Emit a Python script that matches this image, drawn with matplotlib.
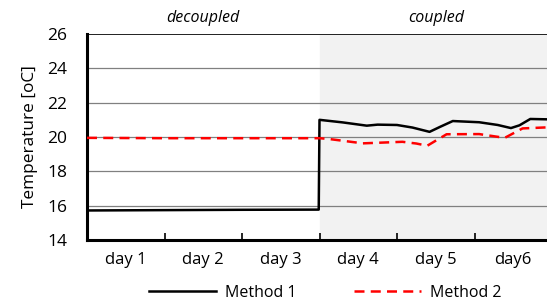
import numpy as np
import matplotlib.pyplot as plt

plt.rcParams['font.family'] = ['Open Sans', 'DejaVu Sans']

# method 1 (black), days on x axis
m1_day = [0.0, 1.0, 2.0, 2.99, 3.0, 3.3, 3.61, 3.75, 4.0, 4.2, 4.42, 4.56, 4.72, 5.06, 5.3, 5.47, 5.58, 5.72, 5.93, 6.0]
m1_temp = [15.72, 15.74, 15.76, 15.77, 21.0, 20.85, 20.66, 20.72, 20.7, 20.55, 20.3, 20.6, 20.93, 20.86, 20.7, 20.52, 20.68, 21.05, 21.03, 21.02]

# method 2 (red dashed)
m2_day = [0.0, 1.0, 2.0, 3.0, 3.13, 3.56, 4.07, 4.25, 4.39, 4.64, 5.06, 5.39, 5.62, 5.93, 6.0]
m2_temp = [19.95, 19.93, 19.93, 19.93, 19.88, 19.63, 19.72, 19.62, 19.49, 20.16, 20.17, 19.95, 20.5, 20.56, 20.56]

day_labels = ['day 1', 'day 2', 'day 3', 'day 4', 'day 5', 'day6']
yticks = [14, 16, 18, 20, 22, 24, 26]

fig = plt.figure(figsize=(5.47, 3.04), dpi=100)
ax = fig.add_axes([87/547, 1 - 240/304, 465/547, 206/304])

ax.axvspan(3, 6.2, color='#f2f2f2', zorder=0)
for y in yticks[1:-1]:
    ax.axhline(y, color='#808080', lw=0.9, zorder=1)
ax.axhline(26, color='#202020', lw=1.4, zorder=1)

ax.plot(m1_day, m1_temp, color='black', lw=1.8, label='Method 1', zorder=3)
ax.plot(m2_day, m2_temp, color='#ff0000', lw=1.8, ls=(0, (4, 2.5)), label='Method 2', zorder=4)

ax.set_xlim(0, 6)
ax.set_ylim(14, 26)
ax.set_yticks(yticks)
ax.tick_params(axis='y', length=0, pad=14, labelsize=12.5)
ax.set_xticks([1, 2, 3, 4, 5])
ax.set_xticklabels([])
ax.tick_params(axis='x', which='major', direction='in', length=5, width=1.2)
ax.set_xticks(np.arange(6) + 0.5, minor=True)
ax.set_xticklabels(day_labels, minor=True)
ax.tick_params(axis='x', which='minor', length=0, pad=9, labelsize=12)

for s in ['top', 'right']:
    ax.spines[s].set_visible(False)
ax.spines['left'].set_linewidth(2.2)
ax.spines['bottom'].set_linewidth(2.2)

ax.set_ylabel('Temperature [oC]', fontsize=12.4, labelpad=7)
ax.text(1.5, 26.45, 'decoupled', style='italic', ha='center', va='bottom', fontsize=11.5)
ax.text(4.5, 26.45, 'coupled', style='italic', ha='center', va='bottom', fontsize=11.5)

fig.legend(loc='center', bbox_to_anchor=(0.594, 0.036), ncol=2, frameon=False,
           fontsize=11.5, handlelength=4.2, handletextpad=0.55, columnspacing=3.6)

fig.savefig('out.png', dpi=100)
